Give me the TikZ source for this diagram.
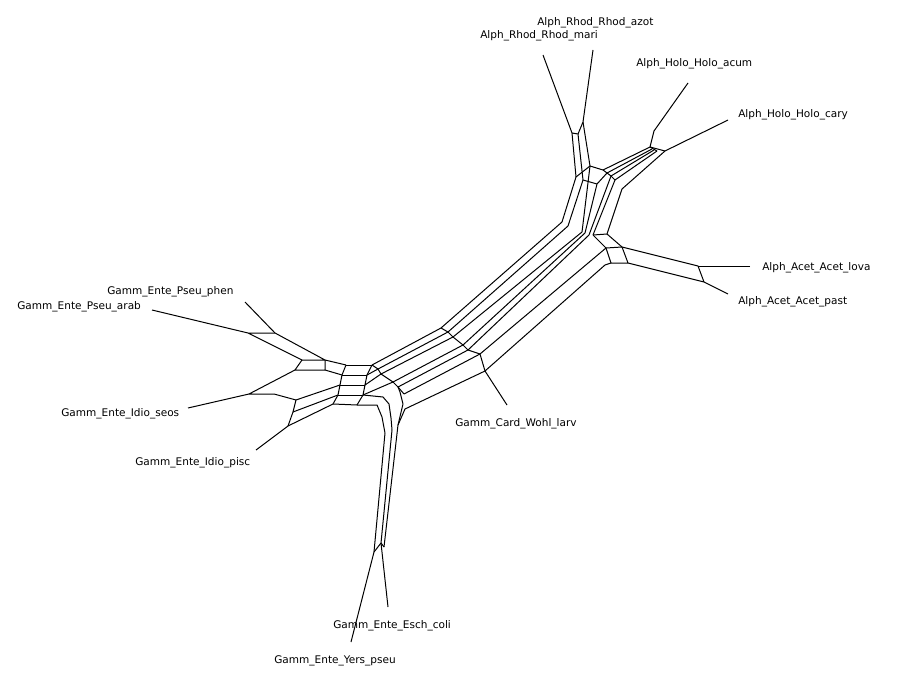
\documentclass[tikz,border=0pt]{standalone}
\usepackage{fontspec}
\newfontfamily\taxfont{DejaVu Sans}
\begin{document}
\begin{tikzpicture}[x=0.75pt,y=-0.75pt,
  net/.style={line width=0.75pt,line join=round},
  taxon/.style={font=\taxfont\fontsize{7.9}{9}\selectfont,inner sep=0pt,anchor=west}]
\useasboundingbox (0,0) rectangle (900,692);

% ---- taxon labels ----
\node[taxon] (lazot) at (537,23) {Alph\_Rhod\_Rhod\_azot};
\node[taxon] (lmari) at (480,36) {Alph\_Rhod\_Rhod\_mari};
\node[taxon] (lacum) at (636,64) {Alph\_Holo\_Holo\_acum};
\node[taxon] (lcary) at (738,115) {Alph\_Holo\_Holo\_cary};
\node[taxon] (llova) at (762,268) {Alph\_Acet\_Acet\_lova};
\node[taxon] (lpast) at (738,302) {Alph\_Acet\_Acet\_past};
\node[taxon] (lwohl) at (455,424) {Gamm\_Card\_Wohl\_larv};
\node[taxon] (lesch) at (333,626) {Gamm\_Ente\_Esch\_coli};
\node[taxon] (lyers) at (274,661) {Gamm\_Ente\_Yers\_pseu};
\node[taxon] (lpisc) at (135,463) {Gamm\_Ente\_Idio\_pisc};
\node[taxon] (lseos) at (61,414) {Gamm\_Ente\_Idio\_seos};
\node[taxon] (larab) at (17,307) {Gamm\_Ente\_Pseu\_arab};
\node[taxon] (lphen) at (107,292) {Gamm\_Ente\_Pseu\_phen};

% ---- leaf tips and attachment points ----
\coordinate (tmari) at (543,55);  \coordinate (amari) at (572,133);
\coordinate (tazot) at (593,50);  \coordinate (aazot) at (583,122);
\coordinate (tacum) at (688,83);  \coordinate (aacum) at (654,131);
\coordinate (tcary) at (728,120); \coordinate (acary) at (665,151);
\coordinate (tlova) at (750,266); \coordinate (alova) at (698,266);
\coordinate (tpast) at (728,294); \coordinate (apast) at (704,282);
\coordinate (twohl) at (507,405); \coordinate (awohl) at (485,371);
\coordinate (tesch) at (388,607); \coordinate (aesch) at (381,543);
\coordinate (tyers) at (351,642); \coordinate (ayers) at (374,552);
\coordinate (tpisc) at (256,450); \coordinate (apisc) at (288,426);
\coordinate (tseos) at (188,408); \coordinate (aseos) at (249,394);
\coordinate (tarab) at (152,310); \coordinate (aarab) at (248,333);
\coordinate (tphen) at (245,302); \coordinate (aphen) at (275,333);

\begin{scope}[net]
% leaf edges
\foreach \t in {mari,azot,acum,cary,lova,past,wohl,esch,yers,pisc,seos,arab,phen}
  \draw (t\t) -- (a\t);

% Rhodobacter box and its descent
\draw (amari) -- (578,134) -- (aazot);
\draw (amari) -- (576,177) -- (562,222);
\draw (578,134) -- (583,180) -- (568,226);
\draw (aazot) -- (590,166) -- (603,170);
\draw (576,177) -- (590,166);
\draw (583,180) -- (597,184);

% Holobacter box
\draw (aacum) -- (650,147) -- (acary);
\draw (650,147) -- (603,170);
\draw (652,149) -- (607,173);
\draw (654,150) -- (611,176);
\draw (657,151) -- (615,180);
\draw (650,147) -- (657,151);
\draw (acary) -- (622,189) -- (607,234);

% central descent to the trunk
\draw (590,166) -- (582,232);
\draw (603,170) -- (607,173) -- (611,176) -- (615,180);
\draw (597,184) -- (585,233);
\draw (607,173) -- (597,184);
\draw (611,176) -- (589,235);
\draw (615,180) -- (593,235);
\draw (593,235) -- (607,234);

% Acetobacter box
\draw (607,234) -- (622,247) -- (628,263) -- (611,263) -- (606,248) -- (593,235);
\draw (606,248) -- (622,247);
\draw (611,263) -- (605,265);
\draw (622,247) -- (alova) -- (apast) -- (628,263);

% trunk lines
\draw (562,222) -- (441,328);
\draw (568,226) -- (448,332);
\draw (582,232) -- (453,337);
\draw (585,233) -- (463,345);
\draw (589,235) -- (468,350);
\draw (606,248) -- (480,354);
\draw (605,265) -- (awohl);
\draw (441,328) -- (448,332) -- (453,337) -- (463,345) -- (468,350) -- (480,354) -- (awohl);

% neck towards the Enterobacteria hub
\draw (441,328) -- (372,365);
\draw (448,332) -- (378,369);
\draw (453,337) -- (381,374);
\draw (463,345) -- (393,382);
\draw (468,350) -- (398,387);
\draw (480,354) -- (404,394);
\draw (awohl) -- (405,409) -- (398,425);
\draw (372,365) -- (378,369) -- (381,374) -- (393,382) -- (398,387) -- (404,394);

% hub block
\draw (346,365) -- (372,365);
\draw (342,375) -- (367,375);
\draw (340,385) -- (365,385);
\draw (338,395) -- (363,395);
\draw (333,404) -- (357,405);
\draw (346,365) -- (342,375) -- (340,385) -- (338,395) -- (333,404);
\draw (372,365) -- (367,375) -- (365,385) -- (363,395) -- (357,405);
\draw (378,369) -- (367,375);
\draw (381,374) -- (365,385);
\draw (393,382) -- (363,395);

% down into Escherichia/Yersinia
\draw (357,405) -- (377,405) -- (382,417) -- (385,433) -- (ayers);
\draw (363,395) -- (383,397) -- (389,404) -- (391,418) -- (392,430) -- (aesch);
\draw (398,387) -- (400,392) -- (403,404) -- (398,425) -- (384,547);
\draw (ayers) -- (aesch) -- (384,547);

% Pseudomonas boxes
\draw (aarab) -- (aphen) -- (325,360) -- (302,360) -- (aarab);
\draw (325,360) -- (346,365);
\draw (302,360) -- (295,370) -- (325,370) -- (325,360);
\draw (325,370) -- (342,375);

% Idiomarina
\draw (295,370) -- (aseos) -- (274,394) -- (296,400) -- (293,412) -- (apisc);
\draw (296,400) -- (340,385);
\draw (293,412) -- (338,395);
\draw (apisc) -- (333,404);
\end{scope}
\end{tikzpicture}
\end{document}
